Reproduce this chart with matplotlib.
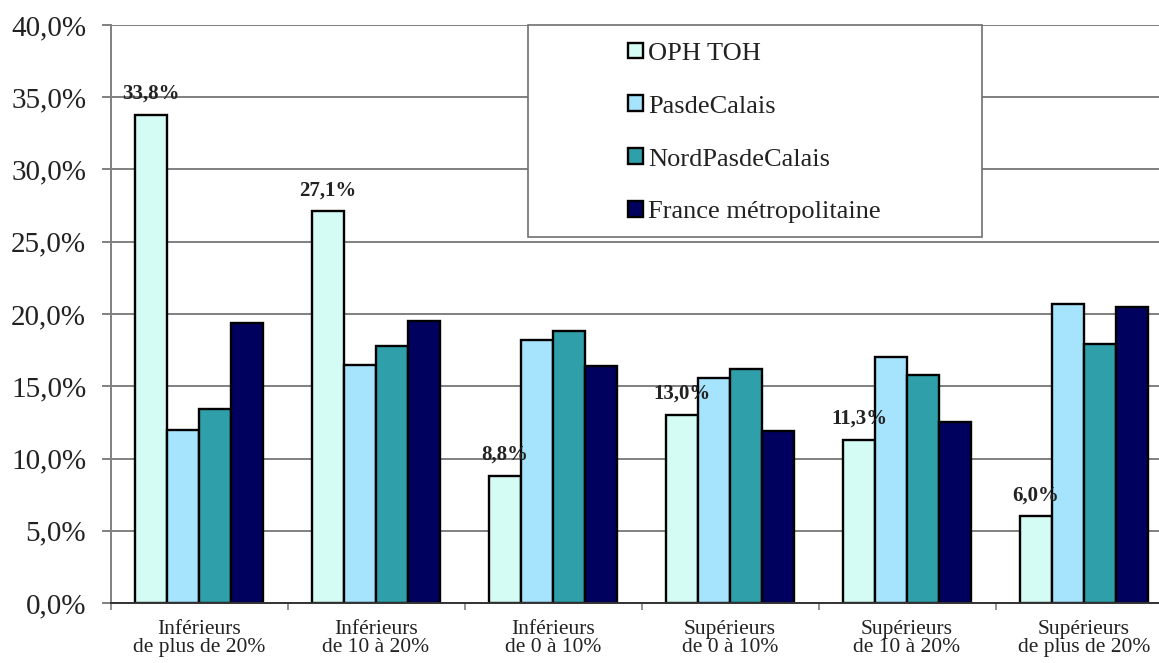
import numpy as np
import matplotlib.pyplot as plt
from matplotlib.patches import Rectangle
from matplotlib.ticker import FuncFormatter, FixedLocator

plt.rcParams['font.family'] = ['Liberation Serif', 'DejaVu Serif']

# categories and series (percent)
categories = ['Inférieurs\nde plus de 20%', 'Inférieurs\nde 10 à 20%', 'Inférieurs\nde 0 à 10%',
              'Supérieurs\nde 0 à 10%', 'Supérieurs\nde 10 à 20%', 'Supérieurs\nde plus de 20%']
series_names = ['OPH TOH', 'PasdeCalais', 'NordPasdeCalais', 'France métropolitaine']
oph_toh = [33.8, 27.1, 8.8, 13.0, 11.3, 6.0]
pas_de_calais = [12.0, 16.5, 18.2, 15.6, 17.0, 20.7]
nord_pas_de_calais = [13.4, 17.8, 18.8, 16.2, 15.8, 17.9]
france_metro = [19.4, 19.5, 16.4, 11.9, 12.5, 20.5]
colors = ['#D4FCF4', '#A6E3FD', '#2F9FAA', '#00005E']

TXT = '#222222'
GRID = '#808080'

fig = plt.figure(figsize=(11.59, 6.63), dpi=100)
ax = fig.add_axes([110.5 / 1159, 60 / 663, 1062 / 1159, 578 / 663])

x = np.arange(len(categories))
w = 0.181
all_series = [oph_toh, pas_de_calais, nord_pas_de_calais, france_metro]
bars = []
for i, (vals, name, c) in enumerate(zip(all_series, series_names, colors)):
    b = ax.bar(x + (i - 1.5) * w, vals, w, color=c, edgecolor='black',
               linewidth=1.7, label=name, zorder=3)
    bars.append(b)

# value labels on the OPH series only
ax.bar_label(bars[0], labels=[f'{v:.1f}%'.replace('.', ',') for v in oph_toh],
             padding=8, fontsize=15, fontweight='bold', color=TXT, zorder=5)

ax.set_xlim(-0.5, len(categories) - 0.5)
ax.set_ylim(0, 40)
ax.set_yticks(np.arange(0, 41, 5))
ax.yaxis.set_major_formatter(FuncFormatter(lambda v, p: f'{v:.1f}%'.replace('.', ',')))
ax.grid(axis='y', color=GRID, linewidth=1.4, zorder=0)
ax.set_axisbelow(True)

# category boundaries as ticks, names centred between them
ax.xaxis.set_major_locator(FixedLocator(np.arange(-0.5, len(categories), 1.0)))
ax.xaxis.set_minor_locator(FixedLocator(x))
ax.set_xticklabels([''] * 7)
ax.set_xticklabels(categories, minor=True, fontsize=15.5, color=TXT, linespacing=0.95)
ax.tick_params(axis='x', which='major', direction='out', length=5, width=1.2, color=GRID)
ax.tick_params(axis='x', which='minor', length=0, pad=12)
ax.tick_params(axis='y', direction='out', length=6.5, width=1.4, color=GRID,
               labelsize=21, labelcolor=TXT, pad=11)

for s in ['top', 'right']:
    ax.spines[s].set_visible(False)
ax.spines['left'].set_color(GRID)
ax.spines['left'].set_linewidth(1.4)
ax.spines['bottom'].set_color('#333333')
ax.spines['bottom'].set_linewidth(1.4)
ax.spines['bottom'].set_zorder(4)

# legend box
ax.add_patch(Rectangle(((528 - 110.5) / 1062, (603 - 237) / 578),
                       (982 - 528) / 1062, 1 - (603 - 237) / 578,
                       transform=ax.transAxes, facecolor='white', edgecolor='#707070',
                       linewidth=1.2, zorder=6, clip_on=False))
leg = ax.legend(loc='center left', bbox_to_anchor=(628 / 1159, (663 - 133) / 663),
                bbox_transform=fig.transFigure, frameon=False, fontsize=19,
                handlelength=0.55, handleheight=0.55, handletextpad=0.2,
                labelspacing=1.16, borderpad=0, borderaxespad=0)
leg.set_zorder(7)
for t in leg.get_texts():
    t.set_color(TXT)

fig.savefig('out.png', dpi=100)
